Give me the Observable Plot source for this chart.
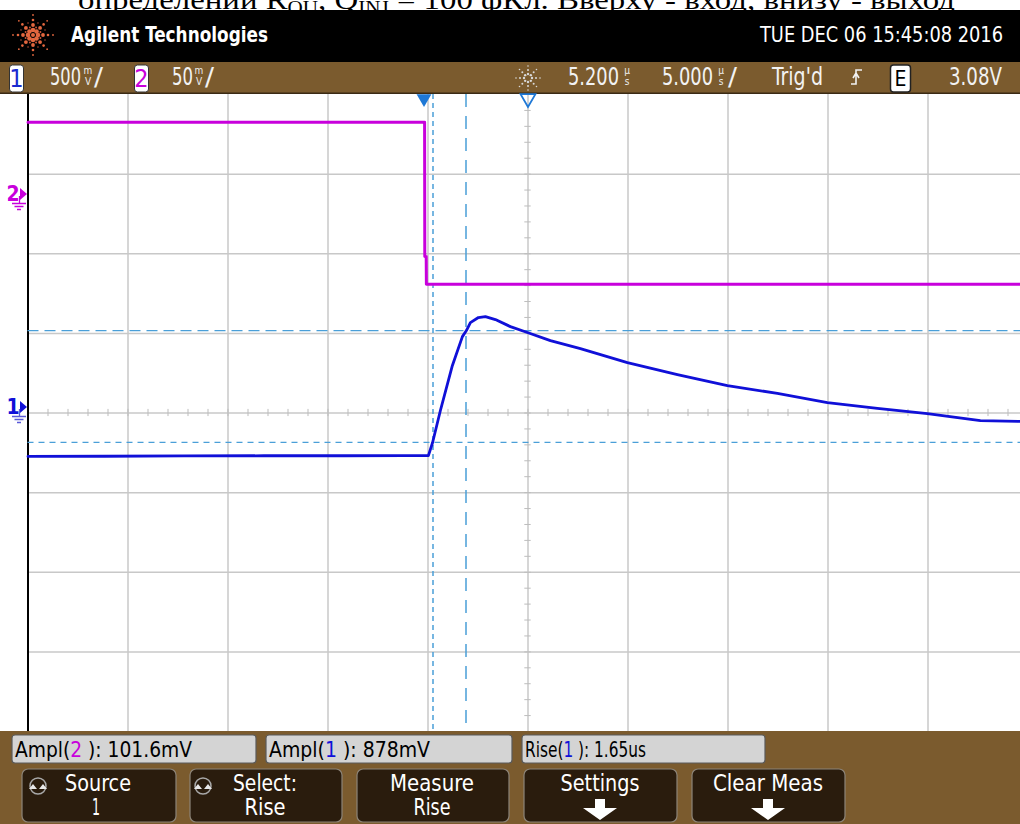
<!DOCTYPE html>
<html><head><meta charset="utf-8">
<script src="https://cdn.jsdelivr.net/npm/d3@7"></script>
<script src="https://cdn.jsdelivr.net/npm/@observablehq/plot@0.6"></script>
<style>
html,body{margin:0;padding:0;background:#fff}
body{width:1020px;height:824px;position:relative;overflow:hidden}
svg.layer{position:absolute;left:0;display:block}
#chart{position:absolute;left:0;top:94px;width:1020px;height:637px}
</style></head>
<body>
<svg id="cap" class="layer" style="top:0" width="1020" height="12"></svg>
<svg id="hdr" class="layer" style="top:10px" width="1020" height="52"></svg>
<svg id="stat" class="layer" style="top:62px" width="1020" height="32"></svg>
<div id="chart"></div>
<svg id="bot" class="layer" style="top:731px" width="1020" height="93"></svg>
<script>
// ---------------- data ----------------
const ch1Time = [-19.8, -16, -12, -8, -4, -1, 0.22, 0.43, 0.82, 1.42, 1.92, 2.12, 2.32, 2.72, 3.07, 3.57, 4.32, 5.17, 6.32, 7.82, 10.17, 12.67, 15.17, 17.67, 20.17, 22.67, 25.17, 27.82, 30.2];
const ch1mV   = [-307, -306, -304, -303, -303, -302, -302, -220, -19, 264, 445, 483, 533, 565, 571, 552, 508, 471, 420, 370, 282, 207, 138, 88, 31, -6, -38, -82, -88];
const ch2Time = [-19.8, 0.03, 0.04, 0.11, 0.12, 30.2];
const ch2mV   = [45.3, 45.3, -39, -39, -56.3, -56.3];
const cursorTime = [0.45, 2.10];
const cursorCh1mV = [483, -219];
const mVPerDiv = [500, 50];          // ch1, ch2
const groundDiv = [0.069, 2.744];    // ground reference positions (divisions)
const timePerDiv = 5, timeDelay = 5.2, triggerTime = 0;
const measureNames = ["Ampl", "Ampl", "Rise"];
const measureCh = ["2", "1", "1"];
const measureVals = ["101.6mV", "878mV", "1.65us"];
const softkeyTop = ["Source", "Select:", "Measure", "Settings", "Clear Meas"];
const softkeyBottom = ["1", "Rise", "Rise", "", ""];
const headerTitle = "Agilent Technologies";
const headerDate = "TUE DEC 06 15:45:08 2016";

const C1 = "#1010d8", C2 = "#c800dc", CUR = "#4a9fd8";
const UI = "'Liberation Sans Narrow','DejaVu Sans Condensed','Liberation Sans',sans-serif";

function T(sel, x, y, s, o = {}) {
  const t = sel.append("text").attr("x", x).attr("y", y).text(s)
    .attr("font-family", o.family || UI).attr("font-size", o.size || 20)
    .attr("fill", o.fill || "#fff").attr("font-weight", o.weight || "normal")
    .attr("text-anchor", o.anchor || "start");
  if (o.len) t.attr("textLength", o.len).attr("lengthAdjust", "spacingAndGlyphs");
  return t;
}

// ---------------- caption (cut at top) ----------------
{
  const s = d3.select("#cap");
  const t = s.append("text").attr("x", 78).attr("y", 9)
    .attr("font-family", "'Liberation Serif','Times New Roman',serif")
    .attr("font-size", 28).attr("fill", "#000")
    .attr("textLength", 877).attr("lengthAdjust", "spacingAndGlyphs");
  t.append("tspan").text("определении R");
  t.append("tspan").attr("dy", 5).attr("font-size", 18).text("QU");
  t.append("tspan").attr("dy", -5).text(", Q");
  t.append("tspan").attr("dy", 5).attr("font-size", 18).text("INJ");
  t.append("tspan").attr("dy", -5).text(" = 100 фКл. Вверху - вход, внизу - выход");
}

// ---------------- header ----------------
{
  const s = d3.select("#hdr");
  s.append("rect").attr("width", 1020).attr("height", 52).attr("fill", "#000");
  const cx = 33, cy = 25;
  for (let k = 0; k < 8; k++) {
    const a = k * Math.PI / 4;
    [[5, 2.3], [10, 1.9], [15, 1.3], [20, 0.9]].forEach(([r, rr]) => {
      s.append("circle").attr("cx", cx + r * Math.cos(a)).attr("cy", cy + r * Math.sin(a)).attr("r", rr).attr("fill", "#e4673f");
    });
  }
  for (let k = 0; k < 8; k++) {
    const a = k * Math.PI / 4 + Math.PI / 8;
    [[8, 1.0], [13, 0.7]].forEach(([r, rr]) => {
      s.append("circle").attr("cx", cx + r * Math.cos(a)).attr("cy", cy + r * Math.sin(a)).attr("r", rr).attr("fill", "#c9553a");
    });
  }
  s.append("circle").attr("cx", cx).attr("cy", cy).attr("r", 2).attr("fill", "#e4673f");
  T(s, 71, 32, headerTitle, {size: 22, weight: "bold", len: 197});
  T(s, 760, 32, headerDate, {size: 22, len: 243});
}

// ---------------- status bar ----------------
{
  const s = d3.select("#stat");
  s.append("rect").attr("width", 1020).attr("height", 32).attr("fill", "#7b5b2e");
  s.append("rect").attr("y", 30.5).attr("width", 1020).attr("height", 1.5).attr("fill", "#3a2a14");
  function box(x, w, lab, col) {
    s.append("rect").attr("x", x).attr("y", 3).attr("width", w).attr("height", 27).attr("rx", 3)
      .attr("fill", "#fff").attr("stroke", "#333").attr("stroke-width", 1);
    T(s, x + w / 2, 25, lab, {size: 25, fill: col, anchor: "middle"});
  }
  // stacked unit (e.g. m over V) as a single text element
  function stack(x, top, bot) {
    const t = s.append("text").attr("x", x).attr("y", 12).attr("font-family", UI).attr("font-size", 10)
      .attr("fill", "#eee").attr("text-anchor", "middle");
    t.append("tspan").attr("x", x).text(top);
    t.append("tspan").attr("x", x).attr("dy", 11).text(bot);
  }
  const F = "#f2f2f2";
  box(9.5, 14, "1", "#1a2ad0");
  T(s, 50, 23, "500", {size: 24, len: 31, fill: F}); stack(88, "m", "V"); T(s, 94, 23, "/", {size: 24, len: 9, fill: F});
  box(134.5, 14, "2", C2);
  T(s, 172, 23, "50", {size: 24, len: 21, fill: F}); stack(199, "m", "V"); T(s, 205, 23, "/", {size: 24, len: 9, fill: F});
  const sx = 528, sy = 16;
  for (let k = 0; k < 8; k++) {
    const a = k * Math.PI / 4;
    [[4, 1.2], [8, 1.0], [12, 0.8]].forEach(([r, rr]) => s.append("circle").attr("cx", sx + r * Math.cos(a)).attr("cy", sy + r * Math.sin(a)).attr("r", rr).attr("fill", "#d8d8d8"));
  }
  T(s, 568, 23, "5.200", {size: 24, len: 51, fill: F}); stack(627, "µ", "s");
  T(s, 662, 23, "5.000", {size: 24, len: 51, fill: F}); stack(721, "µ", "s"); T(s, 728, 23, "/", {size: 24, len: 9, fill: F});
  T(s, 772, 23, "Trig'd", {size: 24, len: 51, fill: F});
  s.append("path").attr("d", "M851,22 L856,22 L856,8 L862,8 M853,16 L856,11 L859,16").attr("fill", "none").attr("stroke", F).attr("stroke-width", 1.6);
  s.append("rect").attr("x", 890.5).attr("y", 3).attr("width", 20).attr("height", 27).attr("rx", 3)
    .attr("fill", "#fff").attr("stroke", "#222").attr("stroke-width", 1.5);
  T(s, 900.5, 24, "E", {size: 21, fill: "#000", anchor: "middle"});
  T(s, 949, 23, "3.08V", {size: 24, len: 53, fill: F});
}

// ---------------- the waveform display ----------------
const ch1 = ch1Time.map((t, i) => ({t, v: ch1mV[i]}));
const ch2 = ch2Time.map((t, i) => ({t, v: ch2mV[i]}));
const t0 = timeDelay - 5 * timePerDiv, t1 = timeDelay + 5 * timePerDiv;
const gridT = d3.range(1, 10).map(i => t0 + i * timePerDiv);
const gridDiv = [-3, -2, -1, 0, 1, 2, 3];
const minorT = d3.range(0, 51).map(i => t0 + i * timePerDiv / 5);
const minorDiv = d3.range(-20, 21).map(i => i / 5);
const div1 = v => v / mVPerDiv[0] + groundDiv[0];
const div2 = v => v / mVPerDiv[1] + groundDiv[1];

const plot = Plot.plot({
  width: 1020, height: 637,
  marginLeft: 27.5, marginRight: -7.5, marginTop: 0, marginBottom: 0,
  x: {domain: [t0, t1], axis: null},
  y: {domain: [-4, 4], axis: null},
  style: {background: "#fff", overflow: "visible"},
  marks: [
    Plot.ruleX(gridT, {stroke: "#c8c8c8", strokeWidth: 1.5}),
    Plot.ruleY(gridDiv, {stroke: "#c8c8c8", strokeWidth: 1.5}),
    Plot.ruleX(minorT, {y1: -0.045, y2: 0.045, stroke: "#bdbdbd", strokeWidth: 1}),
    Plot.ruleY(minorDiv, {x1: timeDelay - 0.16, x2: timeDelay + 0.16, stroke: "#bdbdbd", strokeWidth: 1}),
    Plot.ruleX([t0], {stroke: "#000", strokeWidth: 2}),
    Plot.ruleX([cursorTime[0]], {stroke: CUR, strokeWidth: 1.5, strokeDasharray: "5,4"}),
    Plot.ruleX([cursorTime[1]], {stroke: CUR, strokeWidth: 1.5, strokeDasharray: "13,9"}),
    Plot.ruleY([cursorCh1mV[0]], {y: d => div1(d), stroke: CUR, strokeWidth: 1.3, strokeDasharray: "11,6"}),
    Plot.ruleY([cursorCh1mV[1]], {y: d => div1(d), stroke: CUR, strokeWidth: 1.3, strokeDasharray: "6,5"}),
    Plot.line(ch2, {x: "t", y: d => div2(d.v), stroke: C2, strokeWidth: 3}),
    Plot.line(ch1, {x: "t", y: d => div1(d.v), stroke: C1, strokeWidth: 2.8}),
    Plot.dot([triggerTime], {x: d => d, frameAnchor: "top", dy: 4, symbol: "triangle", rotate: 180, r: 5.5, fill: "#1e78d6", stroke: "none"}),
    Plot.dot([timeDelay], {x: d => d, frameAnchor: "top", dy: 4, symbol: "triangle", rotate: 180, r: 5.5, fill: "none", stroke: "#1e78d6", strokeWidth: 1.8})
  ]
});
document.getElementById("chart").appendChild(plot);

// channel ground markers in the left strip
{
  const svg = d3.select(plot);
  const ys = plot.scale("y");
  [[groundDiv[1], "2", C2, C2], [groundDiv[0], "1", C1, "#5a5ad8"]].forEach(([g, lab, col, gcol]) => {
    const y = ys.apply(g);
    const grp = svg.append("g");
    grp.append("text").attr("x", 13).attr("y", y + 7).attr("text-anchor", "middle")
      .attr("font-family", UI).attr("font-size", 21).attr("font-weight", "bold").attr("fill", col).text(lab);
    grp.append("path").attr("d", `M20,${y - 6} L27,${y} L20,${y + 6} Z`).attr("fill", col);
    grp.append("path").attr("d", `M19.5,${y + 2} L19.5,${y + 9} M12,${y + 9.5} L26,${y + 9.5} M14.5,${y + 12.5} L23.5,${y + 12.5} M17,${y + 15.5} L21,${y + 15.5}`)
      .attr("stroke", gcol).attr("stroke-width", 1.3).attr("fill", "none");
  });
}

// ---------------- bottom bar ----------------
{
  const s = d3.select("#bot");
  s.append("rect").attr("width", 1020).attr("height", 93).attr("fill", "#7b5b2e");
  const boxX = [[12, 256], [266, 512], [522, 765]];
  const txtLen = [177, 161, 121];
  const chCol = {"1": C1, "2": C2};
  boxX.forEach(([a, b], i) => {
    s.append("rect").attr("x", a).attr("y", 4).attr("width", b - a).attr("height", 28).attr("rx", 3)
      .attr("fill", "#d4d4d4").attr("stroke", "#5a5a5a").attr("stroke-width", 1.2);
    const t = s.append("text").attr("x", a + 3).attr("y", 26).attr("font-family", UI).attr("font-size", 22)
      .attr("fill", "#000").attr("textLength", txtLen[i]).attr("lengthAdjust", "spacingAndGlyphs");
    t.append("tspan").text(measureNames[i] + "(");
    t.append("tspan").attr("fill", chCol[measureCh[i]]).text(measureCh[i]);
    t.append("tspan").text(" ): " + measureVals[i]);
  });
  const keyX = [[22, 176], [190, 342], [357, 509], [524, 677], [692, 845]];
  const topLen = [66, 64, 84, 79, 110];
  const topCx = [98, 265, 432, 600, 768];
  const botLen = [8, 41, 37, 0, 0];
  keyX.forEach(([a, b], i) => {
    s.append("rect").attr("x", a).attr("y", 38).attr("width", b - a).attr("height", 53).attr("rx", 6)
      .attr("fill", "#2a1c0d").attr("stroke", "#8c8478").attr("stroke-width", 1.2);
    T(s, topCx[i], 60, softkeyTop[i], {size: 23, anchor: "middle", len: topLen[i]});
    if (softkeyBottom[i]) T(s, topCx[i] - (i === 0 ? 2 : 0), 84, softkeyBottom[i], {size: 23, anchor: "middle", len: botLen[i]});
    else {
      const c = topCx[i];
      s.append("path").attr("d", `M${c - 5},68 L${c + 5},68 L${c + 5},77 L${c + 17},77 L${c},89 L${c - 17},77 L${c - 5},77 Z`).attr("fill", "#fff");
    }
  });
  // rotary icons
  [[38, 55], [203, 55]].forEach(([x, y]) => {
    s.append("circle").attr("cx", x).attr("cy", y).attr("r", 8).attr("fill", "none").attr("stroke", "#a8a8a8").attr("stroke-width", 1.5);
    s.append("path").attr("d", `M${x - 9},${y + 3} L${x - 5},${y - 2} L${x - 1},${y + 3} Z M${x + 1},${y + 3} L${x + 5},${y - 2} L${x + 9},${y + 3} Z`).attr("fill", "#e8e8e8");
  });
}
</script>
</body></html>
